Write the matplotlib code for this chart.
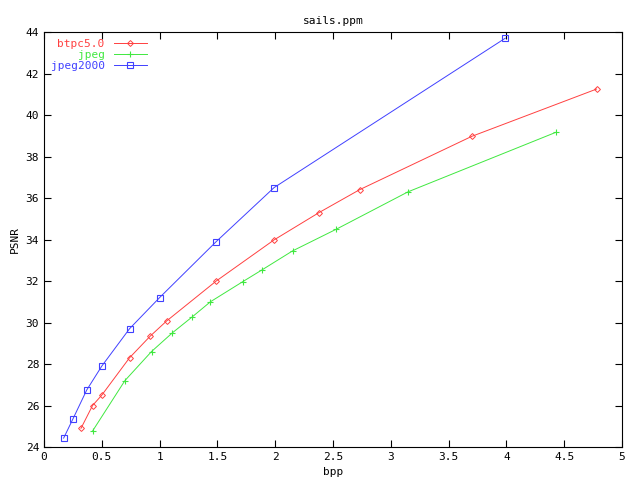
import matplotlib
matplotlib.use("Agg")
import matplotlib.pyplot as plt

bx=[0.17,0.25,0.37,0.5,0.74,1.0,1.49,1.99,3.99]
by=[24.43,25.35,26.75,27.9,29.7,31.2,33.9,36.5,43.7]
rx=[0.32,0.42,0.5,0.74,0.92,1.06,1.49,1.99,2.38,2.73,3.7,4.78]
ry=[24.9,26.0,26.5,28.3,29.35,30.07,32.0,33.98,35.3,36.4,38.97,41.25]
gx=[0.42,0.70,0.93,1.11,1.28,1.44,1.72,1.89,2.15,2.53,3.15,4.43]
gy=[24.77,27.2,28.6,29.5,30.26,31.0,31.97,32.55,33.45,34.5,36.3,39.17]

plt.rcParams['font.family']='DejaVu Sans Mono'
plt.rcParams['font.size']=8
fig=plt.figure(figsize=(6.4,4.8),dpi=100)
ax=fig.add_axes([44/640,1-447/480,578/640,415/480])
cols=['#ff4040','#40e840','#4040ff']
ax.plot(rx,ry,color=cols[0],lw=0.7,marker='D',ms=3,mfc='none',mew=0.7,label='btpc5.0')
ax.plot(gx,gy,color=cols[1],lw=0.7,marker='+',ms=5,mew=0.8,label='jpeg')
ax.plot(bx,by,color=cols[2],lw=0.7,marker='s',ms=4,mfc='none',mew=0.8,label='jpeg2000')
ax.set_xlim(0,5); ax.set_ylim(24,44)
ax.set_xticks([0,0.5,1,1.5,2,2.5,3,3.5,4,4.5,5])
ax.set_xticklabels(['0','0.5','1','1.5','2','2.5','3','3.5','4','4.5','5'])
ax.set_yticks(range(24,45,2))
ax.tick_params(direction='in',top=True,right=True,length=5)
ax.set_xlabel('bpp'); ax.set_ylabel('PSNR')
ax.set_title('sails.ppm',fontsize=8)
leg=ax.legend(loc='upper left',frameon=False,markerfirst=False,handlelength=3,borderaxespad=0.2,labelspacing=0.1)
for t,c in zip(leg.get_texts(),cols):
    t.set_color(c); t.set_ha('right')
leg._legend_box.align='right'
fig.savefig('out.png',dpi=100)
